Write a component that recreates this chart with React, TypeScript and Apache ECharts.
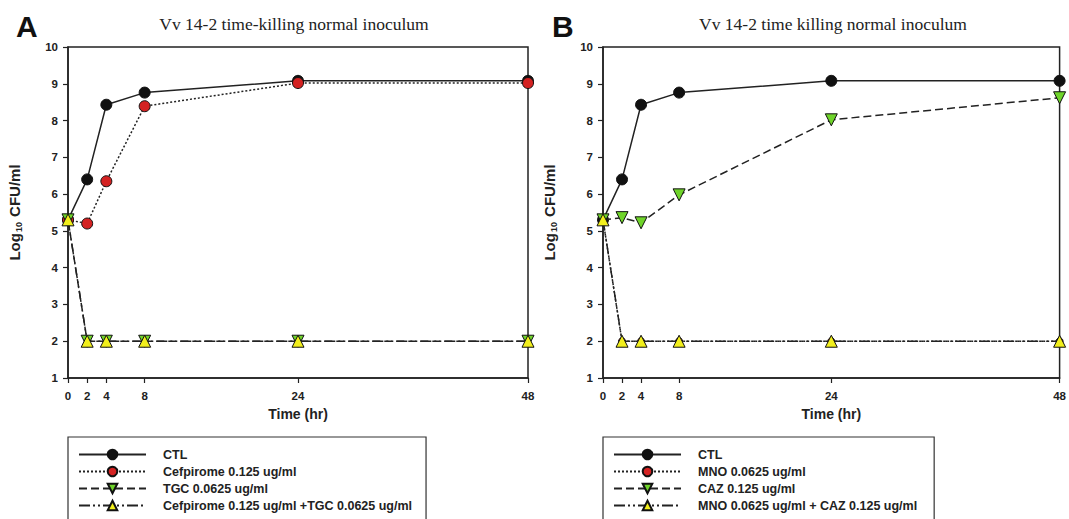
import React, { useEffect, useRef } from "react";
import * as echarts from "echarts";

const hours = [0, 2, 4, 8, 24, 48];
const xTicks = [0, 2, 4, 8, 24, 48];

const ctlA = [5.3, 6.4, 8.43, 8.76, 9.08, 9.08];
const cefpiromeA = [5.3, 5.2, 6.35, 8.39, 9.02, 9.02];
const tgcA = [5.3, 2, 2, 2, 2, 2];
const comboA = [5.3, 2, 2, 2, 2, 2];

const ctlB = [5.3, 6.4, 8.43, 8.76, 9.08, 9.08];
const mnoB = [5.3, 2, 2, 2, 2, 2];
const cazB = [5.3, 5.36, 5.22, 5.98, 8.02, 8.62];
const comboB = [5.3, 2, 2, 2, 2, 2];

const namesA = [
  "CTL",
  "Cefpirome 0.125 ug/ml",
  "TGC 0.0625 ug/ml",
  "Cefpirome 0.125 ug/ml +TGC 0.0625 ug/ml",
];
const namesB = [
  "CTL",
  "MNO 0.0625 ug/ml",
  "CAZ 0.125 ug/ml",
  "MNO 0.0625 ug/ml + CAZ 0.125 ug/ml",
];

const titleA = "Vv 14-2 time-killing normal inoculum";
const titleB = "Vv 14-2 time killing normal inoculum";

const SANS = "Liberation Sans, Arial, sans-serif";
const SERIF = "Liberation Serif, Times New Roman, serif";
const INK = "#222";

const pair = (ys: number[]) => hours.map((h, i) => [h, ys[i]]);

const styles = [
  { symbol: "circle", color: "#111", line: "solid", rotate: 0 },
  { symbol: "circle", color: "#d42222", line: [2, 2], rotate: 0 },
  { symbol: "triangle", color: "#6fd42a", line: [8, 4], rotate: 180 },
  { symbol: "triangle", color: "#f2ef1c", line: [11, 3, 2, 3, 2, 3], rotate: 0 },
];

function makeSeries(names: string[], data: number[][], idx: number, sizes: number[]) {
  return names.map((n, i) => ({
    type: "line",
    name: n,
    xAxisIndex: idx,
    yAxisIndex: idx,
    data: pair(data[i]),
    symbol: styles[i].symbol,
    symbolSize: sizes[i],
    symbolRotate: styles[i].rotate,
    z: 2 + i,
    itemStyle: { color: styles[i].color, borderColor: "#111", borderWidth: 1 },
    lineStyle: { color: "#222", width: 1.5, type: styles[i].line as any },
    emphasis: { disabled: true },
  }));
}

function makeX(idx: number) {
  return {
    type: "value",
    gridIndex: idx,
    min: 0,
    max: 48,
    name: "Time (hr)",
    nameLocation: "middle",
    nameGap: 26,
    nameTextStyle: { fontFamily: SANS, fontSize: 14, fontWeight: "bold", color: INK },
    axisLine: { lineStyle: { color: INK, width: 1.5 } },
    axisTick: { show: true, length: 5, customValues: xTicks, lineStyle: { color: INK, width: 1.2 } },
    axisLabel: { customValues: xTicks, fontFamily: SANS, fontSize: 11.5, fontWeight: "bold", color: INK, margin: 12 },
    splitLine: { show: false },
  };
}

function makeY(idx: number) {
  return {
    type: "value",
    gridIndex: idx,
    min: 1,
    max: 10,
    interval: 1,
    name: "{b|Log}{s|10}{b| CFU/ml}",
    nameLocation: "middle",
    nameRotate: 90,
    nameGap: 44,
    nameTextStyle: {
      rich: {
        b: { fontFamily: SANS, fontSize: 15, fontWeight: "bold", color: INK, lineHeight: 20, verticalAlign: "middle" },
        s: { fontFamily: SANS, fontSize: 9, fontWeight: "bold", color: INK, lineHeight: 20, padding: [10, 1, 0, 1] },
      },
    },
    axisLine: { show: true, lineStyle: { color: INK, width: 1.5 } },
    axisTick: { show: true, length: 5, lineStyle: { color: INK, width: 1.2 } },
    axisLabel: { fontFamily: SANS, fontSize: 11.5, fontWeight: "bold", color: INK, margin: 10 },
    splitLine: { show: false },
  };
}

function makeLegend(names: string[], left: number, textWidth: number, rightPad: number) {
  return {
    orient: "vertical",
    left,
    top: 437,
    data: names,
    itemWidth: 67,
    itemHeight: 12,
    itemGap: 4,
    padding: [11, rightPad, 30, 10],
    borderColor: "#333",
    borderWidth: 1.2,
    selectedMode: false,
    textStyle: {
      fontFamily: SANS,
      fontSize: 12.5,
      fontWeight: "bold",
      color: INK,
      width: textWidth,
      padding: [0, 0, 0, 12],
    },
  };
}

export default function App() {
  const ref = useRef<HTMLDivElement>(null);
  useEffect(() => {
    if (!ref.current) return;
    const chart = echarts.init(ref.current, undefined, { renderer: "svg" });
    const option: any = {
      animation: false,
      backgroundColor: "#fff",
      title: [
        { text: "A", left: 11, top: 6, textStyle: { fontFamily: SANS, fontSize: 30, fontWeight: "bold", color: "#111" } },
        { text: "B", left: 547, top: 6, textStyle: { fontFamily: SANS, fontSize: 30, fontWeight: "bold", color: "#111" } },
        { text: titleA, left: 289, textAlign: "center", top: 10, textStyle: { fontFamily: SERIF, fontSize: 17.5, fontWeight: "normal", color: INK } },
        { text: titleB, left: 828, textAlign: "center", top: 10, textStyle: { fontFamily: SERIF, fontSize: 17.5, fontWeight: "normal", color: INK } },
      ],
      grid: [
        { left: 68, top: 47, width: 460, height: 331, show: true, borderColor: INK, borderWidth: 1.5, backgroundColor: "transparent" },
        { left: 603, top: 47, width: 459, height: 331, show: true, borderColor: INK, borderWidth: 1.5, backgroundColor: "transparent" },
      ],
      xAxis: [makeX(0), makeX(1)],
      yAxis: [makeY(0), makeY(1)],
      legend: [
        makeLegend(namesA, 68, 246, 14),
        makeLegend(namesB, 603, 224, 17),
      ],
      series: [
        ...makeSeries(namesA, [ctlA, cefpiromeA, tgcA, comboA], 0, [11, 11, 12, 12]),
        ...makeSeries(namesB, [ctlB, mnoB, cazB, comboB], 1, [11, 7, 12, 12]),
      ],
    };
    chart.setOption(option);
    return () => chart.dispose();
  }, []);
  return (
    <div
      ref={ref}
      style={{ position: "fixed", left: 0, top: 0, width: 1069, height: 600, background: "#fff" }}
    />
  );
}
